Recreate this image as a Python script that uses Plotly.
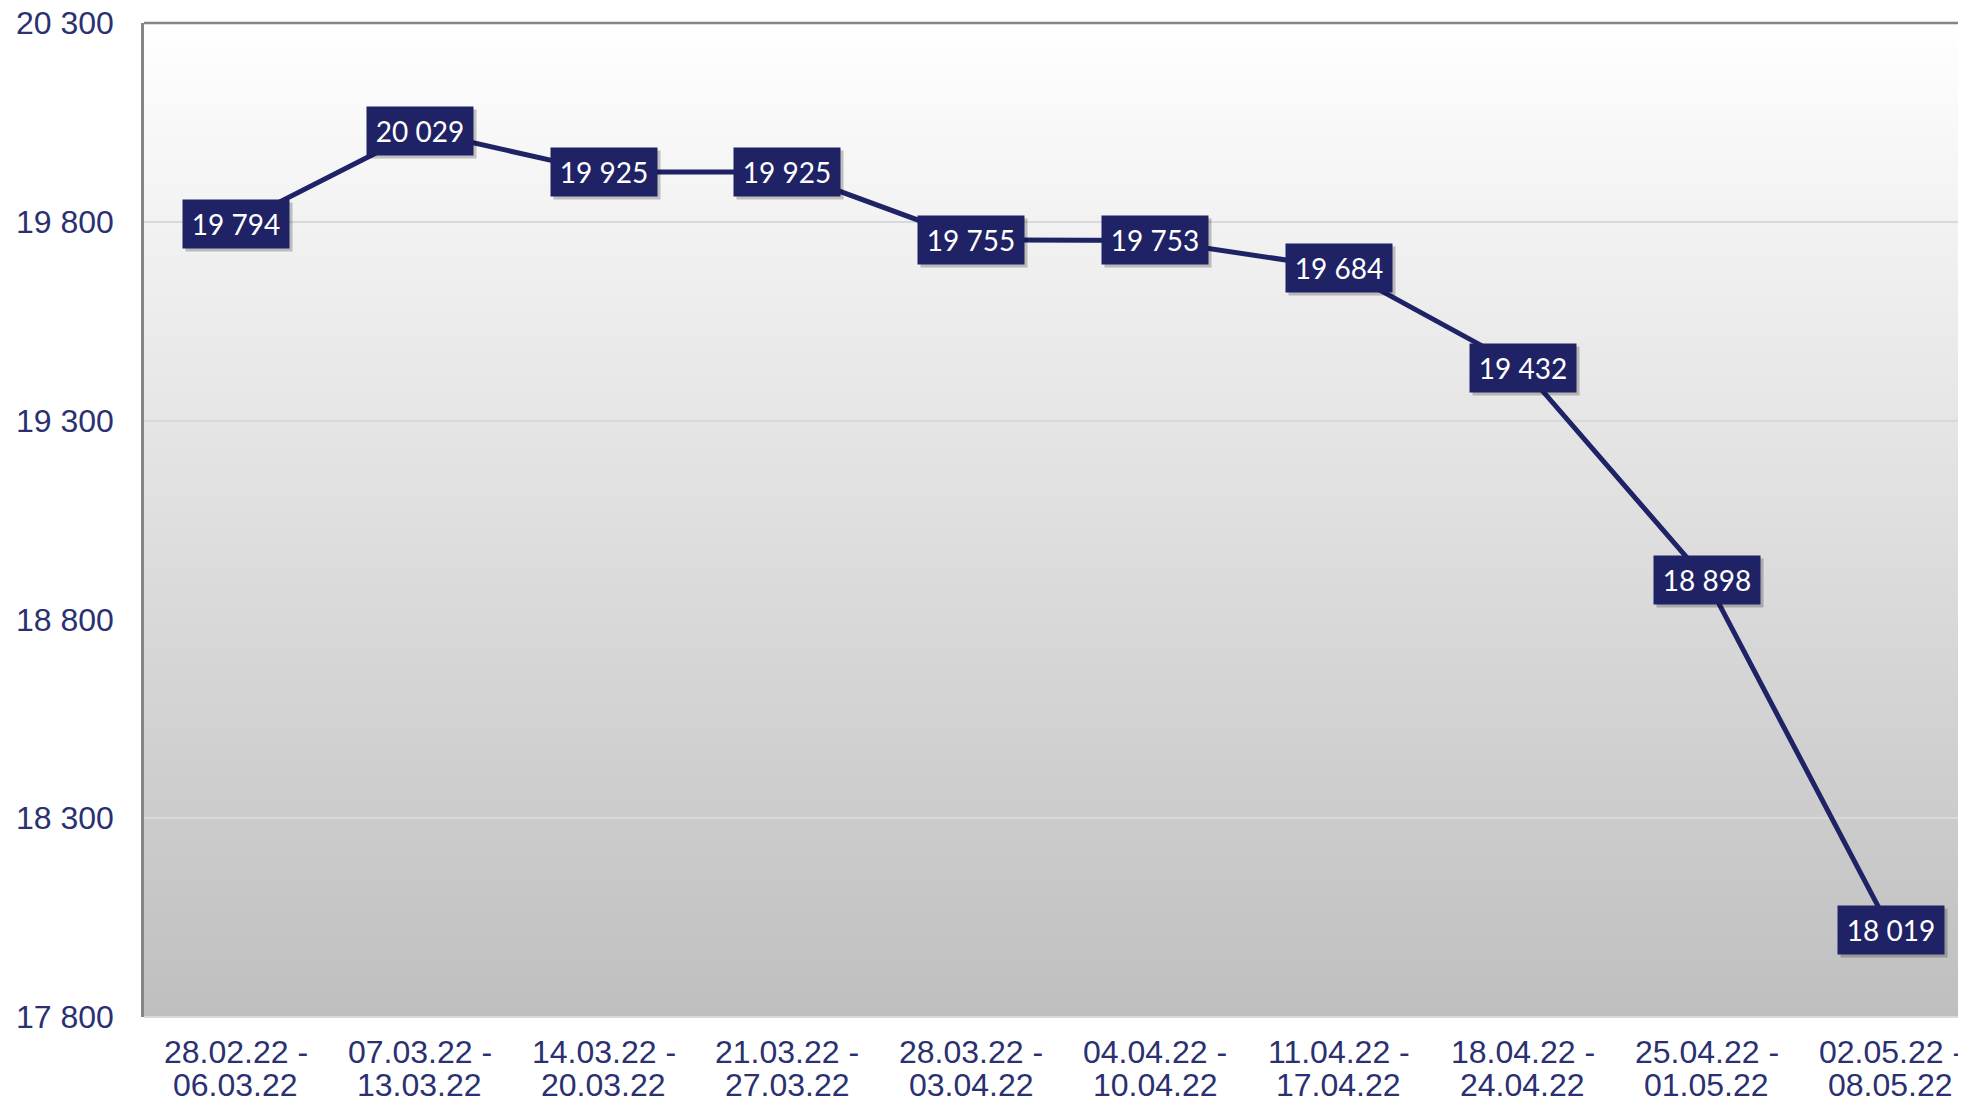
import base64, struct, zlib
import plotly.graph_objects as go

# ---- data ----
week_starts = ["28.02.22", "07.03.22", "14.03.22", "21.03.22", "28.03.22",
               "04.04.22", "11.04.22", "18.04.22", "25.04.22", "02.05.22"]
week_ends = ["06.03.22", "13.03.22", "20.03.22", "27.03.22", "03.04.22",
             "10.04.22", "17.04.22", "24.04.22", "01.05.22", "08.05.22"]
values = [19794, 20029, 19925, 19925, 19755, 19753, 19684, 19432, 18898, 18019]
y_ticks = [17800, 18300, 18800, 19300, 19800, 20300]

categories = [f"{a} - {b}" for a, b in zip(week_starts, week_ends)]
labels = [f"{v:,}".replace(",", " ") for v in values]

NAVY = "#1f2366"
TXT = "#2b3170"


def gradient_png(top, bottom, h=256, w=2):
    rows = b""
    for i in range(h):
        t = i / (h - 1)
        c = bytes(int(round(top[k] + (bottom[k] - top[k]) * t)) for k in range(3))
        rows += b"\x00" + c * w
    def chunk(tag, data):
        return struct.pack(">I", len(data)) + tag + data + struct.pack(">I", zlib.crc32(tag + data) & 0xffffffff)
    png = b"\x89PNG\r\n\x1a\n" + chunk(b"IHDR", struct.pack(">IIBBBBB", w, h, 8, 2, 0, 0, 0))
    png += chunk(b"IDAT", zlib.compress(rows)) + chunk(b"IEND", b"")
    return "data:image/png;base64," + base64.b64encode(png).decode()


fig = go.Figure()
fig.add_trace(go.Scatter(
    x=categories, y=values, mode="lines",
    line=dict(color=NAVY, width=5), hoverinfo="skip", showlegend=False,
))

# shadow boxes then label boxes
for c, v, t in zip(categories, values, labels):
    fig.add_annotation(x=c, y=v, text=t, showarrow=False, xshift=3, yshift=-3,
                       bgcolor="rgba(0,0,0,0.22)", font=dict(family="Lato", size=28, color="rgba(0,0,0,0)"),
                       width=94, height=36, borderpad=6)
    fig.add_annotation(x=c, y=v, text=t, showarrow=False,
                       bgcolor=NAVY, font=dict(family="Lato", size=28, color="white"),
                       width=94, height=36, borderpad=6)

# two-line category labels
for c, a, b in zip(categories, week_starts, week_ends):
    fig.add_annotation(x=c, xref="x", y=0, yref="paper", yanchor="middle", yshift=-35,
                       text=f"{a} -", showarrow=False, borderpad=0,
                       font=dict(family="Liberation Sans", size=32, color=TXT))
    fig.add_annotation(x=c, xref="x", y=0, yref="paper", yanchor="middle", yshift=-68,
                       text=b, showarrow=False, borderpad=0,
                       font=dict(family="Liberation Sans", size=32, color=TXT))

fig.add_layout_image(dict(source=gradient_png((255, 255, 255), (191, 191, 191)),
                          xref="paper", yref="paper", x=0, y=1, sizex=1, sizey=1,
                          sizing="stretch", xanchor="left", yanchor="top", layer="below"))

# borders: top dark, bottom light
fig.add_shape(type="line", xref="paper", yref="paper", x0=0, x1=1, y0=1, y1=1,
              line=dict(color="#858585", width=2.5))
fig.add_shape(type="line", xref="paper", yref="paper", x0=0, x1=1, y0=0, y1=0,
              line=dict(color="#d9d9d9", width=2))

fig.update_layout(
    width=1950, height=1091, autosize=False,
    margin=dict(l=136, r=0, t=15, b=82, autoexpand=False),
    paper_bgcolor="white", plot_bgcolor="rgba(0,0,0,0)",
    separators=", ",
    font=dict(family="Liberation Sans", size=32, color=TXT),
    xaxis=dict(type="category", range=[-0.5, 9.367], showgrid=False, showline=False,
               ticks="", showticklabels=False, automargin=False, fixedrange=True),
    yaxis=dict(range=[17800, 20300], tickvals=y_ticks, tickformat=",d",
               showgrid=True, gridcolor="#d9d9d9", gridwidth=1.5,
               showline=True, linecolor="#858585", linewidth=2.5,
               ticks="", ticklabelstandoff=21, zeroline=False, automargin=False,
               ticklabeloverflow="allow",
               tickfont=dict(family="Liberation Sans", size=32, color=TXT), fixedrange=True),
)

fig.write_html("out.html")
